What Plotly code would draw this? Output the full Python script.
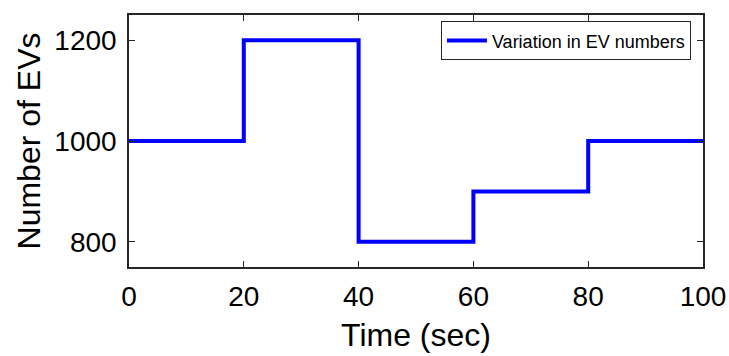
import plotly.graph_objects as go

time_sec = [0, 20, 40, 60, 80, 100]
ev_numbers = [1000, 1200, 800, 900, 1000, 1000]
x_ticks = [0, 20, 40, 60, 80, 100]
y_ticks = [800, 1000, 1200]

FONT = "Liberation Sans, Arial"

fig = go.Figure()
fig.add_trace(go.Scatter(
    x=time_sec, y=ev_numbers, mode="lines", line=dict(shape="hv", color="#0000FF", width=4),
    name="Variation in EV numbers"))

axis_common = dict(showline=True, linecolor="#262626", linewidth=1.5, mirror="ticks",
                   ticks="inside", ticklen=6, tickcolor="#262626", tickwidth=1,
                   showgrid=False, zeroline=False, automargin=False,
                   tickfont=dict(family=FONT, size=28, color="#000"))

fig.update_layout(
    width=729, height=356, margin=dict(l=129, r=26, t=15, b=89),
    plot_bgcolor="white", paper_bgcolor="white",
    showlegend=True,
    legend=dict(x=0.979, y=0.975, xanchor="right", yanchor="top",
                bordercolor="#262626", borderwidth=1, bgcolor="white",
                font=dict(family=FONT, size=18, color="#000"),
                tracegroupgap=0, itemwidth=40),
    xaxis=dict(range=[0, 100], tickvals=x_ticks, ticklabelstandoff=4,
               title=dict(text="Time (sec)", font=dict(family=FONT, size=32, color="#000"), standoff=12),
               **axis_common),
    yaxis=dict(range=[750, 1250], tickvals=y_ticks, ticklabelstandoff=5,
               title=dict(text="Number of EVs", font=dict(family=FONT, size=32, color="#000"), standoff=4),
               **axis_common),
)

fig.write_html("out.html")
